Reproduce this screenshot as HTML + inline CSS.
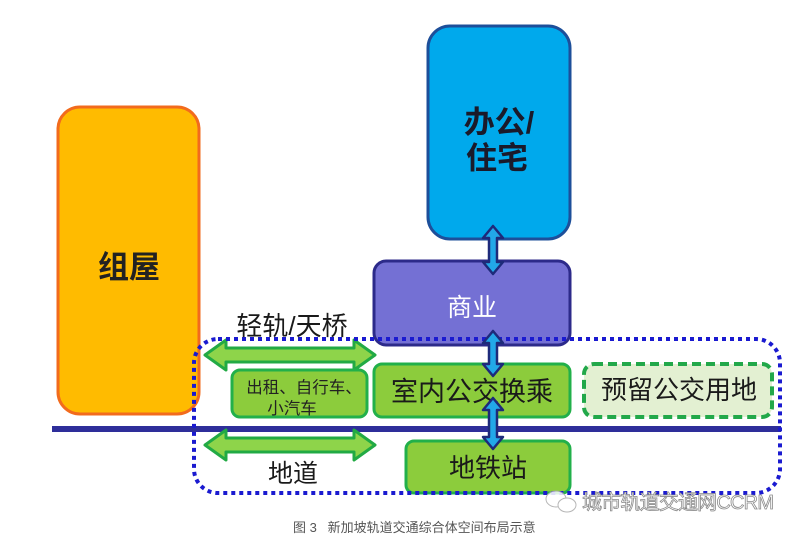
<!DOCTYPE html>
<html><head><meta charset="utf-8"><style>
html,body{margin:0;padding:0;background:#fff;}
svg{display:block;}
text{font-family:"Liberation Sans","Noto Sans CJK SC",sans-serif;}
</style></head><body>
<svg width="800" height="537" viewBox="0 0 800 537" xmlns="http://www.w3.org/2000/svg">
<rect width="800" height="537" fill="#fff"/>
<!-- 组屋 -->
<rect x="58" y="107" width="141" height="307" rx="22" fill="#ffbb00" stroke="#f26b1d" stroke-width="3"/>
<text x="129" y="278" font-size="31" font-weight="bold" fill="#222" text-anchor="middle">组屋</text>
<!-- 办公/住宅 -->
<rect x="428" y="26" width="142" height="213" rx="22" fill="#00a9ec" stroke="#1d4f9a" stroke-width="3"/>
<text x="499" y="133" font-size="31" font-weight="bold" fill="#1a1a2a" text-anchor="middle">办公/</text>
<text x="497" y="169" font-size="31" font-weight="bold" fill="#1a1a2a" text-anchor="middle">住宅</text>
<!-- 商业 -->
<rect x="374" y="261" width="196" height="84" rx="12" fill="#7470d4" stroke="#2c2a8a" stroke-width="3"/>
<text x="472" y="316" font-size="25" fill="#fff" text-anchor="middle">商业</text>
<!-- horizontal line -->
<rect x="52" y="426" width="729" height="6" fill="#2e2e9a"/>
<!-- green arrows -->
<polygon points="205,355 226,340 226,348 354,348 354,340 375,355 354,370 354,362 226,362 226,370" fill="#8ed44a" stroke="#22aa44" stroke-width="3" stroke-linejoin="round"/>
<polygon points="205,445 226,430 226,438 354,438 354,430 375,445 354,460 354,452 226,452 226,460" fill="#8ed44a" stroke="#22aa44" stroke-width="3" stroke-linejoin="round"/>
<!-- taxi box -->
<rect x="232" y="370" width="135" height="47" rx="8" fill="#8ccc3c" stroke="#22b04a" stroke-width="3"/>
<text x="304" y="393" font-size="16.5" fill="#222" text-anchor="middle">出租、自行车、</text>
<text x="292" y="414" font-size="16.5" fill="#222" text-anchor="middle">小汽车</text>
<!-- 室内公交换乘 -->
<rect x="374" y="364" width="196" height="53" rx="8" fill="#8ccc3c" stroke="#22b04a" stroke-width="3"/>
<text x="472" y="401" font-size="27" fill="#1a1a1a" text-anchor="middle">室内公交换乘</text>
<!-- 地铁站 -->
<rect x="406" y="441" width="164" height="52" rx="8" fill="#8ccc3c" stroke="#22b04a" stroke-width="3"/>
<text x="488" y="477" font-size="26" fill="#1a1a1a" text-anchor="middle">地铁站</text>
<!-- 预留公交用地 -->
<rect x="584" y="364" width="188" height="53" rx="10" fill="#e3f0d2" stroke="#22a84a" stroke-width="4" stroke-dasharray="9 5"/>
<text x="679" y="399" font-size="26" fill="#1a1a1a" text-anchor="middle">预留公交用地</text>
<!-- dotted boundary -->
<rect x="194" y="339" width="586" height="154" rx="24" fill="none" stroke="#1a1ad0" stroke-width="4" stroke-dasharray="4 4"/>
<!-- labels -->
<text x="292" y="335" font-size="26" fill="#1a1a1a" text-anchor="middle">轻轨/天桥</text>
<text x="293" y="482" font-size="25" fill="#1a1a1a" text-anchor="middle">地道</text>
<!-- blue vertical arrows -->
<g fill="#22a8e8" stroke="#1e2a7a" stroke-width="2.5" stroke-linejoin="round">
<polygon points="493,226 503,238 497,238 497,262 503,262 493,274 483,262 489,262 489,238 483,238"/>
<polygon points="493,331 503,343 497,343 497,364 503,364 493,376 483,364 489,364 489,343 483,343"/>
<polygon points="493,398 503,410 497,410 497,437 503,437 493,449 483,437 489,437 489,410 483,410"/>
</g>
<!-- watermark -->
<g opacity="0.85">
<ellipse cx="556" cy="499" rx="10" ry="8" fill="#fff" stroke="#aaa" stroke-width="1"/>
<ellipse cx="567" cy="505" rx="9" ry="7" fill="#fff" stroke="#aaa" stroke-width="1"/>
</g>
<text x="582" y="509" font-size="20" fill="#fff" stroke="#8a8a8a" stroke-width="0.8" textLength="192">城市轨道交通网CCRM</text>
<!-- caption -->
<text x="293" y="532" font-size="13" fill="#555">图&#160;3&#160;&#160;&#160;新加坡轨道交通综合体空间布局示意</text>
</svg>
</body></html>
